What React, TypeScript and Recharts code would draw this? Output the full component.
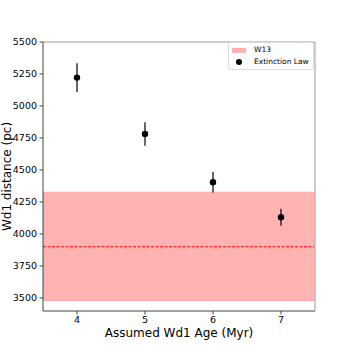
import {
  ComposedChart,
  Scatter,
  ErrorBar,
  XAxis,
  YAxis,
  ReferenceArea,
  ReferenceLine,
  Label,
} from "recharts";

// assumed ages (Myr) and the derived distances
const ages = [4, 5, 6, 7];
const distances = [5222, 4781, 4404, 4131];
const distanceErrors = [112, 92, 80, 66];

// W13 distance with its uncertainty band
const w13Distance = 3900;
const w13Low = 3480;
const w13High = 4326;

const xTicks = [4, 5, 6, 7];
const yTicks = [3500, 3750, 4000, 4250, 4500, 4750, 5000, 5250, 5500];

const data = ages.map((age, i) => ({
  age,
  dist: distances[i],
  err: distanceErrors[i],
}));

const FONT = "'DejaVu Sans', sans-serif";
const tickStyle = { fill: "#000", fontSize: 9.5, fontFamily: FONT };

const Dot = (props: any) => (
  <circle cx={props.cx} cy={props.cy} r={3.2} fill="#000" />
);

const LegendBox = () => (
  <div
    style={{
      position: "absolute",
      left: 228,
      top: 42,
      boxSizing: "border-box",
      width: 86,
      whiteSpace: "nowrap",
      border: "1px solid #ddd",
      borderRadius: 2,
      background: "rgba(255,255,255,0.85)",
      padding: "1px 3px 1px 3px",
      fontFamily: FONT,
      fontSize: 7.5,
      color: "#000",
      lineHeight: "12px",
    }}
  >
    <div style={{ display: "flex", alignItems: "center" }}>
      <span
        style={{
          display: "inline-block",
          width: 14,
          height: 5,
          background: "#ffb3b3",
          marginRight: 8,
        }}
      />
      W13
    </div>
    <div style={{ display: "flex", alignItems: "center" }}>
      <span
        style={{
          display: "inline-block",
          width: 14,
          textAlign: "center",
          marginRight: 8,
          lineHeight: 0,
        }}
      >
        <span
          style={{
            display: "inline-block",
            width: 6,
            height: 6,
            borderRadius: 3,
            background: "#000",
          }}
        />
      </span>
      Extinction Law
    </div>
  </div>
);

export default function App() {
  return (
    <div
      style={{
        position: "absolute",
        left: 0,
        top: 0,
        width: 350,
        height: 350,
        background: "#fff",
      }}
    >
      <ComposedChart
        width={350}
        height={350}
        data={data}
        margin={{ top: 42, right: 35, left: 0, bottom: 0 }}
      >
        <XAxis
          dataKey="age"
          type="number"
          domain={[3.5, 7.5]}
          ticks={xTicks}
          allowDataOverflow
          height={39}
          tick={tickStyle}
          tickSize={3.5}
          tickMargin={2}
          stroke="#444"
        >
          <Label
            value="Assumed Wd1 Age (Myr)"
            position="insideBottom"
            offset={13}
            style={{ fill: "#000", fontSize: 12, fontFamily: FONT }}
          />
        </XAxis>
        <YAxis
          dataKey="dist"
          type="number"
          domain={[3398, 5500]}
          ticks={yTicks}
          allowDataOverflow
          width={43}
          tick={tickStyle}
          tickSize={3.5}
          tickMargin={2.5}
          stroke="#444"
        >
          <Label
            value="Wd1 distance (pc)"
            angle={-90}
            position="center"
            dx={-15}
            style={{
              fill: "#000",
              fontSize: 12,
              fontFamily: FONT,
              textAnchor: "middle",
            }}
          />
        </YAxis>
        <ReferenceArea
          y1={w13Low}
          y2={w13High}
          fill="#ffb3b3"
          fillOpacity={1}
          stroke="#ff9c9c"
          strokeWidth={0.8}
          ifOverflow="hidden"
        />
        <ReferenceLine
          y={w13Distance}
          stroke="#ff0000"
          strokeDasharray="3 1.5"
          strokeWidth={1}
        />
        <ReferenceLine y={5500} stroke="#bbb" strokeWidth={1.5} />
        <ReferenceLine x={7.5} stroke="#bbb" strokeWidth={1.5} />
        <Scatter
          dataKey="dist"
          fill="#000"
          shape={<Dot />}
          isAnimationActive={false}
          legendType="none"
        >
          <ErrorBar
            dataKey="err"
            direction="y"
            width={0}
            stroke="#000"
            strokeWidth={1.2}
          />
        </Scatter>
      </ComposedChart>
      <LegendBox />
    </div>
  );
}
